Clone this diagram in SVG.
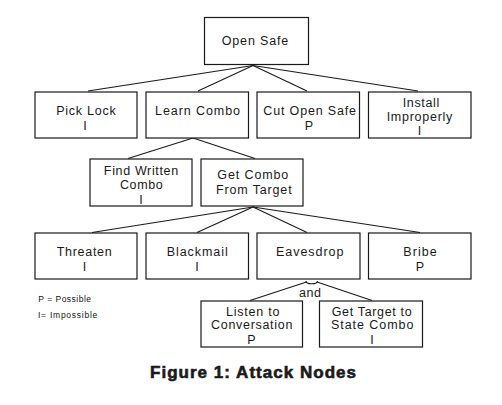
<svg xmlns="http://www.w3.org/2000/svg" width="502" height="405" viewBox="0 0 502 405">
<style>
.box{fill:#fff;stroke:#1a1a1a;stroke-width:1.2}
.t{font-family:"Liberation Sans",Arial,sans-serif;font-size:12.5px;fill:#1a1a1a;text-anchor:middle}
.conn line{stroke:#1a1a1a;stroke-width:1.1}
.leg{font-family:"Liberation Sans",Arial,sans-serif;font-size:8.5px;fill:#111}
.cap{font-family:"Liberation Sans",Arial,sans-serif;font-size:17px;font-weight:bold;fill:#1a1a1a;stroke:#1a1a1a;stroke-width:0.6;text-anchor:middle}
</style>
<rect width="502" height="405" fill="#fff"/>
<g id="connectors" class="conn">
<line x1="253" y1="65.5" x2="88" y2="91"/>
<line x1="253" y1="65.5" x2="198" y2="91"/>
<line x1="253" y1="65.5" x2="307" y2="91"/>
<line x1="253" y1="65.5" x2="418" y2="91"/>
<line x1="193" y1="138" x2="128" y2="158.5"/>
<line x1="193" y1="138" x2="255" y2="158.5"/>
<line x1="253" y1="207" x2="92" y2="232.5"/>
<line x1="253" y1="207" x2="197" y2="232.5"/>
<line x1="253" y1="207" x2="307" y2="232.5"/>
<line x1="253" y1="207" x2="420" y2="232.5"/>
<line x1="306.5" y1="282" x2="250" y2="300.5"/>
<line x1="317" y1="282" x2="372" y2="300.5"/>
<path d="M306 281 A5.7 2.8 0 0 0 317.4 281" fill="none" stroke="#1a1a1a" stroke-width="1.1"/>
</g>
<g id="open-safe"><rect class="box" x="204.5" y="17.5" width="104" height="47"/><text class="t" x="255" y="45" textLength="66.6">Open Safe</text></g>
<g id="pick-lock"><rect class="box" x="35" y="92" width="102" height="46"/><text class="t" x="86" y="115" textLength="59.7">Pick Lock</text><text class="t" x="85" y="130">I</text></g>
<g id="learn-combo"><rect class="box" x="146" y="92" width="102.5" height="46"/><text class="t" x="197.5" y="115" textLength="85">Learn Combo</text></g>
<g id="cut-open-safe"><rect class="box" x="257" y="92" width="102.5" height="46"/><text class="t" x="309.7" y="115" textLength="92.7">Cut Open Safe</text><text class="t" x="309" y="130">P</text></g>
<g id="install-improperly"><rect class="box" x="368.5" y="92" width="102.5" height="46"/><text class="t" x="421" y="106.5" textLength="36.7">Install</text><text class="t" x="419.5" y="120.5" textLength="65.7">Improperly</text><text class="t" x="419.5" y="134.5">I</text></g>
<g id="find-written-combo"><rect class="box" x="90" y="159" width="102" height="47"/><text class="t" x="141" y="175" textLength="74.3">Find Written</text><text class="t" x="141.3" y="189.3" textLength="42.7">Combo</text><text class="t" x="141" y="203.5">I</text></g>
<g id="get-combo-from-target"><rect class="box" x="201" y="159" width="102" height="47"/><text class="t" x="252.8" y="179.3" textLength="71">Get Combo</text><text class="t" x="253.8" y="194.3" textLength="75.7">From Target</text></g>
<g id="threaten"><rect class="box" x="35" y="233" width="102" height="46"/><text class="t" x="84.2" y="255.7" textLength="55">Threaten</text><text class="t" x="84.5" y="270.7">I</text></g>
<g id="blackmail"><rect class="box" x="146" y="233" width="102.5" height="46"/><text class="t" x="197.2" y="255.7" textLength="61">Blackmail</text><text class="t" x="197" y="270.7">I</text></g>
<g id="eavesdrop"><rect class="box" x="257" y="233" width="103" height="46"/><text class="t" x="309.7" y="255.7" textLength="67.3">Eavesdrop</text></g>
<g id="bribe"><rect class="box" x="368.5" y="233" width="102.5" height="46"/><text class="t" x="420" y="255.7" textLength="33.3">Bribe</text><text class="t" x="420" y="270.7">P</text></g>
<text class="t" x="310" y="296.7" font-size="11.5" textLength="22">and</text>
<g id="listen-to-conversation"><rect class="box" x="201" y="301" width="101.5" height="46"/><text class="t" x="252.7" y="315.7" textLength="53.3">Listen to</text><text class="t" x="251.7" y="329.3" textLength="81.3">Conversation</text><text class="t" x="251.5" y="344">P</text></g>
<g id="get-target-to-state-combo"><rect class="box" x="319.5" y="301" width="103" height="46"/><text class="t" x="371.7" y="315.7" textLength="80">Get Target to</text><text class="t" x="372.2" y="329.3" textLength="82.3">State Combo</text><text class="t" x="372" y="344">I</text></g>
<g id="legend"><text class="leg" x="38.3" y="302.3" textLength="52.7">P = Possible</text><text class="leg" x="38" y="318.3" textLength="59.3">I= Impossible</text></g>
<text class="cap" x="253" y="378" textLength="206">Figure 1: Attack Nodes</text>
</svg>
